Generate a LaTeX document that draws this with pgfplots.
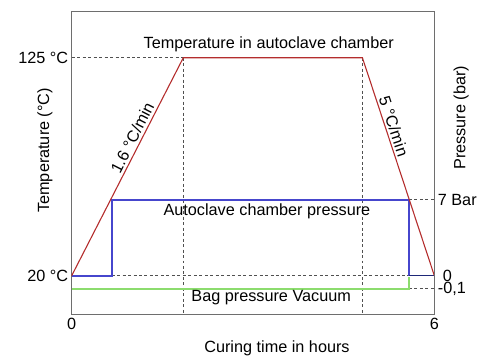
\documentclass[border=0pt]{standalone}
\usepackage{fontspec}
\setmainfont{Liberation Sans}
\usepackage{pgfplots}
\pgfplotsset{compat=1.18}

\definecolor{tempred}{RGB}{180,45,45}
\definecolor{presblue}{RGB}{70,70,205}
\definecolor{navy}{RGB}{30,40,120}
\definecolor{baggreen}{RGB}{140,220,110}
\definecolor{guide}{RGB}{80,80,80}
\definecolor{framegray}{RGB}{110,110,110}

\pgfplotsset{
  base/.style={
    scale only axis, width=364pt, height=304pt,
    xmin=0, xmax=6, ymin=1.13, ymax=147.08,
    axis line style={framegray, line width=1pt},
    major tick length=0pt,
    clip=false,
  },
  guideline/.style={guide, line width=0.9pt, dash pattern=on 3pt off 2.5pt},
}

\begin{document}
\begin{tikzpicture}[font=\fontsize{16.3}{19}\selectfont]
% main axis: temperature scale, pressure drawn at its schematic heights
\begin{axis}[
  base,
  xtick={0,6}, xticklabels={0,6},
  ytick={20,125}, yticklabels={20 °C,125 °C},
  xlabel={Curing time in hours},
  ylabel={Temperature (°C)},
  xlabel style={at={(axis description cs:0.566,-0.109)}, anchor=center},
  ylabel style={at={(axis description cs:-0.074,0.543)}, anchor=center},
]
\coordinate (O) at (rel axis cs:0,0);
% guides
\addplot[guideline] coordinates {(0,125) (1.846,125)};
\addplot[guideline] coordinates {(1.846,125) (1.846,1.13)};
\addplot[guideline] coordinates {(4.81,125) (4.81,1.13)};
\addplot[guideline] coordinates {(0.66,20) (5.58,20)};
\addplot[guideline] coordinates {(5.58,56.5) (6,56.5)};
\addplot[guideline] coordinates {(5.58,13.6) (6,13.6)};
% bag pressure (vacuum, -0.1 bar)
\addplot[color=baggreen, line width=1.3pt] coordinates {(0,13.6) (5.58,13.6) (5.58,19.5)};
% autoclave chamber pressure (0 -> 7 bar -> 0)
\addplot[color=presblue, line width=2pt] coordinates {(0,20) (0.66,20) (0.66,56.5) (5.58,56.5) (5.58,20)};
\addplot[color=navy, line width=1.5pt] coordinates {(5.58,20) (6,20)};
% temperature
\addplot[color=tempred, line width=1.1pt] coordinates {(0,20) (1.846,125) (4.81,125) (6,20)};
% annotations
\node at (axis cs:3.26,131.7) {Temperature in autoclave chamber};
\node at (axis cs:3.23,51) {Autoclave chamber pressure};
\node at (axis cs:3.3,9.6) {Bag pressure Vacuum};
\node[rotate=62.9] at (axis cs:1.0,86.5) {1.6 °C/min};
\node[rotate=-71.8] at (axis cs:5.33,92) {5 °C/min};
\end{axis}
% right axis: pressure labels
\begin{axis}[
  base,
  axis x line=none,
  axis y line*=right,
  ytick={13.6,20,56.5}, yticklabels={{-0,1},\hspace{5pt}0,{7 Bar}},
  ylabel={Pressure (bar)},
  ylabel style={at={(axis description cs:1.074,0.651)}, anchor=center},
]
\addplot[draw=none] coordinates {(0,20)};
\end{axis}
\path (O) ++(-72pt,-43pt) rectangle ++(480pt,359pt);
\end{tikzpicture}
\end{document}
